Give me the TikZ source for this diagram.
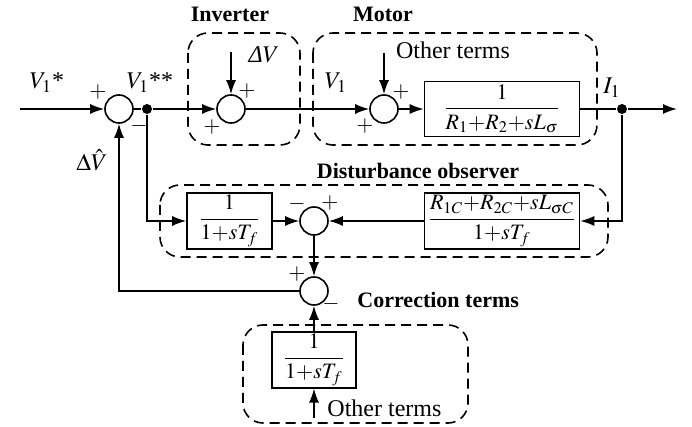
\documentclass[tikz,border=0pt]{standalone}
\usepackage{amsmath}
\usepackage{mathptmx}
\usepackage{fontspec}
\setmainfont{Liberation Serif}
\usetikzlibrary{arrows.meta}

\tikzset{
    sumnode/.style={circle, draw, thick, minimum size=14pt, inner sep=0pt},
    blk/.style={rectangle, draw, thick, inner sep=1pt, font=\fontsize{11}{13}\selectfont},
    dotnode/.style={circle, fill, minimum size=5pt, inner sep=0pt},
    groupbox/.style={dashed, thick, rounded corners=10pt, dash pattern=on 5pt off 3pt},
    sgn/.style={font=\fontsize{11}{13}\selectfont},
    ttl/.style={font=\fontsize{11}{13}\selectfont\bfseries}
}

\begin{document}
\begin{tikzpicture}[x=0.5pt, y=-0.5pt, >={Latex[length=7pt,width=5pt]}, thick, font=\fontsize{12}{14}\selectfont]
        \useasboundingbox (0,0) rectangle (692,427);

        % dashed groups
        \draw[groupbox] (188,33) rectangle (300,145);
        \draw[groupbox] (313,33) rectangle (597,145);
        \draw[groupbox] (160,185) rectangle (608,257);
        \draw[groupbox] (243,325) rectangle (468,423);

        \node[ttl] (t-inv) at (230,14) {Inverter};
        \node[ttl] (t-mot) at (383,14) {Motor};
        \node[ttl] (t-do) at (418,171) {Disturbance observer};
        \node[ttl, anchor=west] (t-cor) at (350,300) {Correction terms};

        % forward path
        \coordinate (in) at (20,109);
        \node (s-1) at (119,109) [sumnode] {};
        \node (d-1) at (147,109) [dotnode] {};
        \node (s-2) at (231,109) [sumnode] {};
        \node (s-3) at (384,109) [sumnode] {};
        \node (b-m) at (502,109) [blk, minimum width=77.5pt, minimum height=27.5pt] {$\dfrac{1}{R_1{+}R_2{+}sL_\sigma}$};
        \node (d-2) at (622,109) [dotnode] {};
        \coordinate (out) at (677,109);
        \coordinate (dv) at (231,52);
        \coordinate (ot-1) at (384,53);

        % observer
        \node (b-f) at (229.5,221) [blk, minimum width=42.5pt, minimum height=28pt] {$\dfrac{1}{1{+}sT_f}$};
        \node (s-4) at (314,221) [sumnode] {};
        \node (b-r) at (502,221) [blk, minimum width=77.5pt, minimum height=28pt] {$\dfrac{R_{1C}{+}R_{2C}{+}sL_{\sigma C}}{1{+}sT_f}$};

        % correction
        \node (s-5) at (314,291) [sumnode] {};
        \node (b-c) at (314,360) [blk, minimum width=42pt, minimum height=27.5pt] {$\dfrac{1}{1{+}sT_f}$};
        \coordinate (ot-2) at (314,418);

        % labels
        \node (l-v1s) at (47,83) {$V_1$*};
        \node (l-v1ss) at (150,83) {$V_1$**};
        \node (l-dv) at (264,55) {\textit{Δ}$V$};
        \node (l-v1) at (336,83) {$V_1$};
        \node (l-i1) at (612,88) {$I_1$};
        \node[anchor=east] (l-dvh) at (115,160) {$\Delta\hat{V}$};
        \node (l-ot1) at (453,50) {Other terms};
        \node[anchor=west] (l-ot2) at (320,408) {Other terms};

        % signs
        \node[sgn] at (98,92) {$+$};
        \node[sgn] at (139,126) {$-$};
        \node[sgn] at (247,91) {$+$};
        \node[sgn] at (212,127) {$+$};
        \node[sgn] at (401,92) {$+$};
        \node[sgn] at (365,126) {$+$};
        \node[sgn] at (297,204) {$-$};
        \node[sgn] at (330,203) {$+$};
        \node[sgn] at (297,274) {$+$};
        \node[sgn] at (331,304) {$-$};

        % connectors
        \draw[->] (in) -- (s-1);
        \draw (s-1) -- (d-1);
        \draw[->] (d-1) -- (s-2);
        \draw[->] (dv) -- (s-2);
        \draw[->] (s-2) -- (s-3);
        \draw[->] (ot-1) -- (s-3);
        \draw[->] (s-3) -- (b-m);
        \draw (b-m) -- (d-2);
        \draw[->] (d-2) -- (out);

        \draw[->] (d-2) |- (b-r);
        \draw[->] (d-1) |- (b-f);
        \draw[->] (b-f) -- (s-4);
        \draw[->] (b-r) -- (s-4);
        \draw[->] (s-4) -- (s-5);
        \draw[->] (s-5) -| (s-1);
        \draw[->] (b-c) -- (s-5);
        \draw[->] (ot-2) -- (b-c);

    \end{tikzpicture}
\end{document}
